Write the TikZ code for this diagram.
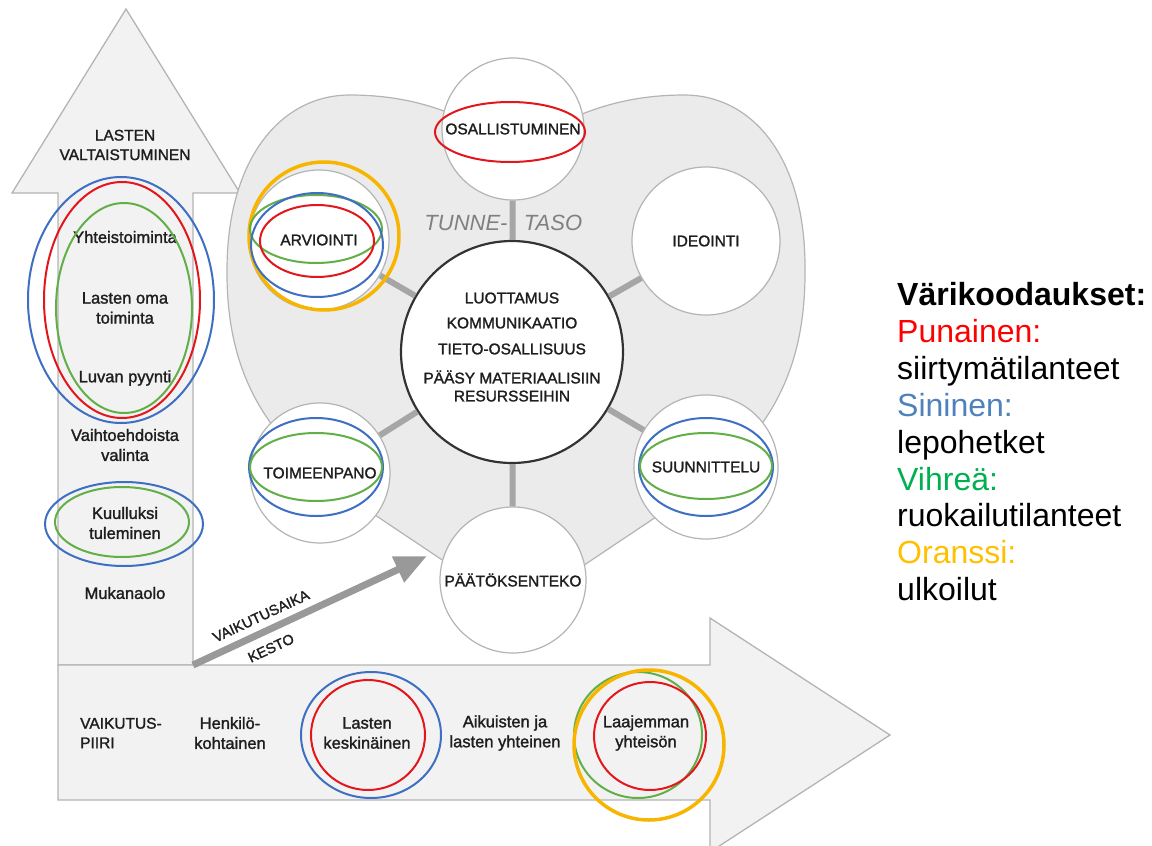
\documentclass[tikz,border=0pt]{standalone}
\usepackage{fontspec}
\setmainfont{Liberation Sans}
\newfontfamily\dfont{Liberation Sans}[FakeBold=1.5]
\usetikzlibrary{arrows.meta}
\definecolor{ered}{HTML}{E3161C}
\definecolor{eblue}{HTML}{3F6FC2}
\definecolor{egreen}{HTML}{62AE47}
\definecolor{eyellow}{HTML}{F7B500}
\definecolor{lred}{HTML}{FF0000}
\definecolor{lblue}{HTML}{4F81BD}
\definecolor{lgreen}{HTML}{00B050}
\definecolor{lorange}{HTML}{FFC000}
\definecolor{panel}{HTML}{F2F2F2}
\definecolor{heartfill}{HTML}{EBEBEB}
\definecolor{edge}{HTML}{B4B4B4}
\definecolor{ink}{HTML}{1E1E1E}
\begin{document}
\begin{tikzpicture}[x=1pt,y=-1pt,
  panelshape/.style={fill=panel,draw=edge,line width=1.3pt,line join=miter},
  stage/.style={circle,draw=edge,fill=white,line width=1.2pt,inner sep=0pt,text=ink,
    font=\dfont\fontsize{15.5}{18}\selectfont},
  hub/.style={circle,draw=black!80,fill=white,line width=2.2pt,inner sep=0pt,minimum size=222pt},
  spoke/.style={draw=black!35,line width=6pt},
  lbl/.style={text=ink,font=\dfont\fontsize{16.5}{20}\selectfont,align=center,inner sep=0pt},
  caps/.style={text=ink,font=\dfont\fontsize{15.5}{19.5}\selectfont,align=center,inner sep=0pt},
  ring/.style={line width=2pt},
  thickring/.style={line width=3.5pt},
  legend/.style={anchor=base west,inner sep=0pt,font=\fontsize{32}{37}\selectfont},
]
\useasboundingbox (0,0) rectangle (1152,846);

% vertical arrow: children's empowerment
\path[panelshape] (58,665) -- (58,193) -- (12,193) -- (126,9) -- (240,193)
  -- (193,193) -- (193,665) -- cycle;
% horizontal arrow: sphere of influence
\path[panelshape] (58,665) -- (710,665) -- (710,618) -- (890,735) -- (710,852)
  -- (710,800) -- (58,800) -- cycle;

% heart-shaped emotional level
\path[fill=heartfill,draw=edge,line width=1.2pt]
  (517,610) -- (378,517)
  .. controls (290,460) and (226,400) .. (227,270)
  .. controls (227,160) and (280,95) .. (350,95)
  .. controls (430,95) and (480,125) .. (517,150)
  .. controls (554,125) and (604,95) .. (684,95)
  .. controls (754,95) and (806,160) .. (805,270)
  .. controls (806,400) and (744,460) .. (656,517)
  -- cycle;

\node[font=\itshape\fontsize{22}{24}\selectfont,text=black!50,inner sep=0pt] (tunne) at (466,223) {TUNNE-};
\node[font=\itshape\fontsize{22}{24}\selectfont,text=black!50,inner sep=0pt] (taso) at (553,223) {TASO};

% hub and stages
\node[hub] (hub) at (512,352) {};
\node[stage,minimum size=142pt] (osa) at (513,129) {OSALLISTUMINEN};
\node[stage,minimum size=140pt] (arv) at (319,240) {ARVIOINTI};
\node[stage,minimum size=148pt] (ide) at (706,241) {IDEOINTI};
\node[stage,minimum size=140pt] (toi) at (320,473) {TOIMEENPANO};
\node[stage,minimum size=144pt] (suu) at (706,467) {SUUNNITTELU};
\node[stage,minimum size=146pt] (paa) at (513,580) {PÄÄTÖKSENTEKO};

\draw[spoke] (hub) -- (osa);
\draw[spoke] (hub) -- (arv);
\draw[spoke] (hub) -- (ide);
\draw[spoke] (hub) -- (toi);
\draw[spoke] (hub) -- (suu);
\draw[spoke] (hub) -- (paa);

\node[caps] (h1) at (512,298) {LUOTTAMUS};
\node[caps] (h2) at (512,323) {KOMMUNIKAATIO};
\node[caps] (h3) at (512,349) {TIETO-OSALLISUUS};
\node[caps,font=\dfont\fontsize{15.5}{18}\selectfont] (h4) at (512,386) {PÄÄSY MATERIAALISIIN\\RESURSSEIHIN};

% texts of the vertical arrow
\node[caps] (vt) at (125,145) {LASTEN\\VALTAISTUMINEN};
\node[lbl] (v1) at (125,237) {Yhteistoiminta};
\node[lbl] (v2) at (125,308) {Lasten oma\\toiminta};
\node[lbl] (v3) at (125,378) {Luvan pyynti};
\node[lbl] (v4) at (125,445) {Vaihtoehdoista\\valinta};
\node[lbl] (v5) at (125,523) {Kuulluksi\\tuleminen};
\node[lbl] (v6) at (125,593) {Mukanaolo};

% texts of the horizontal arrow
\node[caps,align=left,anchor=west] (b0) at (80,733) {VAIKUTUS-\\PIIRI};
\node[lbl] (b1) at (230,733) {Henkilö-\\kohtainen};
\node[lbl] (b2) at (367,733) {Lasten\\keskinäinen};
\node[lbl] (b3) at (505,733) {Aikuisten ja\\lasten yhteinen};
\node[lbl] (b4) at (646,733) {Laajemman\\yhteisön};

% duration arrow
\coordinate (d0) at (193,665);
\coordinate (d1) at (427,556);
\draw[draw=black!40,line width=7pt,-{Triangle[length=32pt,width=27pt]}] (d0) -- (d1);
\node[caps,rotate=25,font=\dfont\fontsize{14.5}{16}\selectfont] (da) at (261,616) {VAIKUTUSAIKA};
\node[caps,rotate=25,font=\dfont\fontsize{14.5}{16}\selectfont] (db) at (271,648) {KESTO};

% colour-coded highlights: left column
\draw[ring,eblue] (121,300) ellipse [x radius=93, y radius=123];
\draw[ring,ered] (122,300) ellipse [x radius=78, y radius=118];
\draw[ring,egreen] (124,308) ellipse [x radius=68, y radius=105];
\draw[ring,eblue] (124,524) ellipse [x radius=79, y radius=42];
\draw[ring,egreen] (122,522) ellipse [x radius=67, y radius=35];
% bottom band
\draw[ring,eblue] (371,735) ellipse [x radius=70, y radius=63];
\draw[ring,ered] (368,735) ellipse [x radius=57, y radius=55];
\draw[ring,egreen] (638,735) ellipse [x radius=64, y radius=63];
\draw[ring,ered] (650,736) ellipse [x radius=56, y radius=54];
\draw[thickring,eyellow] (649,745) ellipse [x radius=75, y radius=75];
% stages
\draw[ring,ered] (510,132) ellipse [x radius=75, y radius=30];
\draw[thickring,eyellow] (324,236) ellipse [x radius=75, y radius=74];
\draw[ring,egreen] (316,229) ellipse [x radius=66, y radius=34];
\draw[ring,eblue] (317,245) ellipse [x radius=66, y radius=52];
\draw[ring,ered] (317,241) ellipse [x radius=57, y radius=36];
\draw[ring,eblue] (316,467) ellipse [x radius=67, y radius=49];
\draw[ring,egreen] (316,467) ellipse [x radius=66, y radius=34];
\draw[ring,eblue] (706,467) ellipse [x radius=67, y radius=49];
\draw[ring,egreen] (706,466) ellipse [x radius=66, y radius=33];

% legend
\node[legend] (k0) at (897,305) {\bfseries Värikoodaukset:};
\node[legend,text=lred] (k1) at (897,342) {Punainen:};
\node[legend] (k2) at (897,379) {siirtymätilanteet};
\node[legend,text=lblue] (k3) at (897,416) {Sininen:};
\node[legend] (k4) at (897,453) {lepohetket};
\node[legend,text=lgreen] (k5) at (897,490) {Vihreä:};
\node[legend] (k6) at (897,526) {ruokailutilanteet};
\node[legend,text=lorange] (k7) at (897,563) {Oranssi:};
\node[legend] (k8) at (897,600) {ulkoilut};
\end{tikzpicture}
\end{document}
